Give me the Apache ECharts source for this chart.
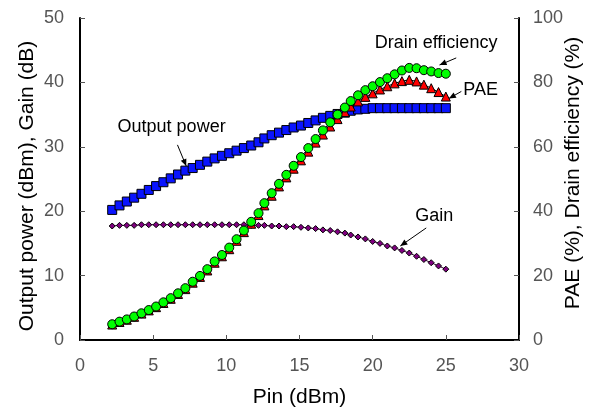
<!DOCTYPE html>
<html><head><meta charset="utf-8">
<script src="https://cdn.jsdelivr.net/npm/echarts@6/dist/echarts.min.js"></script>
<style>html,body{margin:0;padding:0;background:#fff}#c{width:592px;height:408px}</style>
</head><body><div id="c"></div>
<script>
const pin = [2.2,2.7,3.2,3.7,4.2,4.7,5.2,5.7,6.2,6.7,7.2,7.7,8.2,8.7,9.2,9.7,10.2,10.7,11.2,11.7,12.2,
  12.6,13.1,13.6,14.1,14.6,15.1,15.6,16.1,16.6,17.1,17.6,18.1,
  18.5,19.0,19.5,20.0,20.5,21.0,21.5,22.0,22.5,23.0,23.5,24.0,24.5,25.0];
const outputPower = [20.2,20.9,21.5,22.1,22.7,23.3,23.9,24.5,25.1,25.7,26.3,26.7,27.2,27.7,28.2,28.6,29.0,29.4,29.8,30.2,30.7,
  31.3,31.8,32.2,32.6,33.0,33.3,33.7,34.1,34.5,34.8,35.1,35.3,
  35.6,35.8,35.9,36.0,36.0,36.0,36.0,36.0,36.0,36.0,36.0,36.0,36.0,36.0];
const gain = [17.7,17.8,17.8,17.8,17.9,17.9,17.9,17.9,17.9,17.9,17.9,17.9,17.9,17.9,17.9,17.9,17.9,17.9,17.9,17.8,17.8,
  17.8,17.7,17.7,17.6,17.6,17.5,17.4,17.3,17.1,17.0,16.8,16.6,
  16.3,16.0,15.7,15.3,15.0,14.6,14.3,13.9,13.5,13.0,12.5,12.0,11.5,11.0];
const drainEff = [4.9,5.7,6.4,7.3,8.3,9.3,10.4,11.7,13.0,14.5,16.1,18.1,19.9,22.0,24.4,26.4,28.7,31.3,34.0,36.7,39.4,
  42.5,45.6,48.5,51.3,54.1,56.8,59.6,62.4,65.1,67.6,70.0,72.2,
  74.2,76.0,77.6,78.8,80.1,81.3,82.5,83.7,84.5,84.4,83.8,83.4,82.9,82.7];
const pae = [4.8,5.6,6.3,7.2,8.2,9.2,10.2,11.5,12.8,14.3,15.8,17.8,19.6,21.6,24.0,26.0,28.2,30.8,33.5,36.1,38.8,
  41.8,44.8,47.7,50.5,53.2,55.8,58.5,61.3,63.8,66.3,68.6,70.8,
  72.5,74.1,75.5,76.6,77.8,78.8,79.7,80.4,80.8,80.3,79.3,78.2,77.0,75.6];
const xTicks = [0,30,5];
const yLeftTicks = [0,50,10];
const yRightTicks = [0,100,20];

const FONT = 'Liberation Sans, Arial, sans-serif';
const pair = (a) => pin.map((x,i)=>[x,a[i]]);
const chart = echarts.init(document.getElementById('c'), null, {renderer:'canvas'});
const axisLine = {show:true, lineStyle:{color:'#000', width:2}};
const tick = {show:true, inside:true, length:5, lineStyle:{color:'#555', width:1}};
const lbl = {color:'#555', fontSize:18, fontFamily:FONT};
const title = {color:'#000', fontSize:21, fontFamily:FONT};
chart.setOption({
  animation:false,
  grid:{left:80, right:73, top:18, bottom:68, containLabel:false, outerBoundsMode:'none'},
  xAxis:{type:'value', min:xTicks[0], max:xTicks[1], interval:xTicks[2],
    name:'Pin (dBm)', nameLocation:'middle', nameGap:47, nameMoveOverlap:false,
    nameTextStyle:title,
    axisLine:axisLine, axisTick:tick, splitLine:{show:false},
    axisLabel:Object.assign({margin:17}, lbl)},
  yAxis:[
    {type:'value', min:yLeftTicks[0], max:yLeftTicks[1], interval:yLeftTicks[2],
     name:'Output power (dBm), Gain (dB)', nameLocation:'middle', nameGap:42, nameRotate:90, nameMoveOverlap:false,
     nameTextStyle:Object.assign({padding:[0,14,0,0]}, title),
     axisLine:axisLine, axisTick:tick, splitLine:{show:false},
     axisLabel:Object.assign({margin:16}, lbl)},
    {type:'value', min:yRightTicks[0], max:yRightTicks[1], interval:yRightTicks[2], position:'right',
     name:'PAE (%), Drain efficiency (%)', nameLocation:'middle', nameGap:44, nameRotate:90, nameMoveOverlap:false,
     nameTextStyle:Object.assign({padding:[0,0,0,12]}, title),
     axisLine:axisLine, axisTick:tick, splitLine:{show:false},
     axisLabel:Object.assign({margin:14}, lbl)}
  ],
  series:[
    {name:'Gain', type:'line', yAxisIndex:0, data:pair(gain), z:2,
     symbol:'diamond', symbolSize:6, lineStyle:{color:'#300030', width:1},
     itemStyle:{color:'#800080', borderColor:'#000', borderWidth:1}},
    {name:'Output power', type:'line', yAxisIndex:0, data:pair(outputPower), z:3,
     symbol:'rect', symbolSize:9, lineStyle:{color:'#000', width:1},
     itemStyle:{color:'#0a14ff', borderColor:'#000', borderWidth:1}},
    {name:'PAE', type:'line', yAxisIndex:1, data:pair(pae), z:4,
     symbol:'triangle', symbolSize:9, lineStyle:{color:'#000', width:1},
     itemStyle:{color:'#ff0000', borderColor:'#000', borderWidth:1}},
    {name:'Drain efficiency', type:'line', yAxisIndex:1, data:pair(drainEff), z:5,
     symbol:'circle', symbolSize:9, lineStyle:{color:'#000', width:1},
     itemStyle:{color:'#00ff00', borderColor:'#000', borderWidth:1}}
  ]
});

// annotations (label text + arrows) anchored in data coordinates of the left axis
const notes = [
  {text:'Output power', at:[6.26,33.1], from:[6.66,30.3], to:[7.26,27.0]},
  {text:'Drain efficiency', at:[24.33,46.1], from:[25.71,43.8], to:[24.57,42.7]},
  {text:'PAE', at:[27.38,38.8], from:[26.06,38.6], to:[25.21,37.5]},
  {text:'Gain', at:[24.21,19.2], from:[23.66,17.4], to:[21.89,14.6]}
];
const px = (p) => chart.convertToPixel({xAxisIndex:0, yAxisIndex:0}, p);
const g = [];
notes.forEach(n => {
  const c = px(n.at), a = px(n.from), b = px(n.to);
  g.push({type:'text', x:c[0], y:c[1], style:{text:n.text, fill:'#000', font:'18px '+FONT, textAlign:'center', textVerticalAlign:'middle'}, z:10});
  g.push({type:'line', shape:{x1:a[0], y1:a[1], x2:b[0], y2:b[1]}, style:{stroke:'#000', lineWidth:1}, z:10});
  const ang = Math.atan2(b[1]-a[1], b[0]-a[0]), L = 7, W = 3;
  const bx = b[0]-L*Math.cos(ang), by = b[1]-L*Math.sin(ang);
  const nx = -Math.sin(ang)*W, ny = Math.cos(ang)*W;
  g.push({type:'polygon', shape:{points:[[b[0],b[1]],[bx+nx,by+ny],[bx-nx,by-ny]]}, style:{fill:'#000'}, z:10});
});
chart.setOption({graphic:g});
</script></body></html>
